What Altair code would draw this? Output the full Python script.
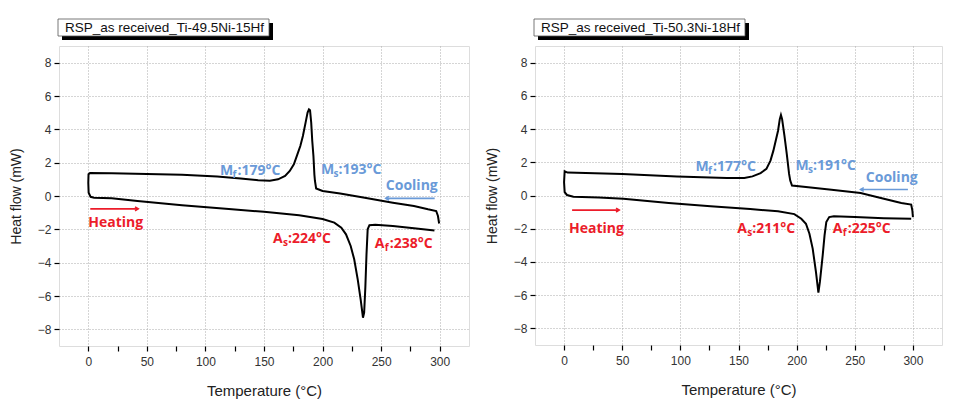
import altair as alt
import pandas as pd

# ---------------- data ----------------
# Path order: cooling curve from 300 °C back to 0 °C, then heating curve up to 300 °C
temp_1 = [299.5, 298.5, 297, 290, 278, 260, 236, 215, 200, 194.5, 193.5, 193, 192.2, 191.2, 190.3,
          189.3, 188.4, 187.2, 185.5, 183.2, 181, 178.5, 175.5, 172, 168, 162, 155, 145, 130, 110,
          80, 50, 20, 1.5, 0.2, 0, 0.3, 2, 5,
          20, 42, 80, 120, 150, 180, 200, 210, 216, 220, 224, 227, 230, 232.5, 234.5, 235.5, 236.5,
          237.5, 238.5, 240, 245, 260, 280, 295.5]
flow_1 = [-1.65, -1.2, -0.9, -0.8, -0.6, -0.4, -0.1, 0.15, 0.3, 0.45, 0.9, 1.3, 2.4, 3.3, 4.4,
          5.15, 5.2, 5.0, 4.4, 3.6, 3.0, 2.5, 1.9, 1.5, 1.2, 1.0, 0.92, 0.95, 1.05, 1.17,
          1.27, 1.32, 1.36, 1.38, 1.3, 0.8, 0.2, -0.05, -0.1,
          -0.13, -0.3, -0.55, -0.78, -0.95, -1.15, -1.38, -1.6, -1.9, -2.3, -3.0, -3.8, -5.0, -6.2, -7.3, -7.0, -5.5,
          -3.5, -2.0, -1.75, -1.72, -1.8, -1.95, -2.07]

temp_2 = [300, 299.5, 298.5, 290, 275, 255, 230, 210, 196, 194.5, 193.5, 191.5, 189.5, 187.5, 186.5,
          185.5, 184, 182, 180, 177.5, 174, 169, 162, 155, 140, 97, 50, 3, 0.5, 0, 0.5, 2.5, 8,
          30, 51, 90, 126, 160, 184, 198, 204, 208, 211, 213.8, 216.6, 218.7, 220, 222.4, 224,
          225.5, 228, 232, 250, 275, 298.5]
flow_2 = [-1.3, -0.9, -0.55, -0.45, -0.2, 0.15, 0.35, 0.5, 0.6, 0.9, 1.3, 2.5, 3.6, 4.6, 4.85,
          4.6, 3.9, 3.3, 2.7, 2.1, 1.6, 1.35, 1.15, 1.05, 1.05, 1.15, 1.3, 1.38, 1.46, 0.8, 0.2, 0.03, -0.08,
          -0.12, -0.2, -0.45, -0.64, -0.82, -0.95, -1.12, -1.4, -1.7, -2.3, -3.2, -4.6, -5.85, -5.2, -3.6, -2.4,
          -1.6, -1.3, -1.25, -1.3, -1.37, -1.4]

panel_titles = ["RSP_as received_Ti-49.5Ni-15Hf", "RSP_as received_Ti-50.3Ni-18Hf"]

# transformation temperature labels: main letter, subscript, rest, x, y
mart_main = ["M", "M"]
mart_sub = ["f", "s"]
mart_rest_1 = [":179°C", ":193°C"]
mart_rest_2 = [":177°C", ":191°C"]
mart_x_1 = [112.5, 198.6]
mart_y_1 = [1.5, 1.57]
mart_x_2 = [113, 199]
mart_y_2 = [1.74, 1.8]

aus_main = ["A", "A"]
aus_sub = ["s", "f"]
aus_rest_1 = [":224°C", ":238°C"]
aus_rest_2 = [":211°C", ":225°C"]
aus_x_1 = [157.7, 244.6]
aus_y_1 = [-2.6, -2.9]
aus_x_2 = [149, 231]
aus_y_2 = [-2.04, -2.04]

# direction labels and arrows
cool_label_1 = (254, 0.6)
cool_arrow_1 = (295.7, 254, -0.14)      # from, to (tip), y
heat_label_1 = (0, -1.63)
heat_arrow_1 = (1.7, 42.6, -0.77)
cool_label_2 = (259.5, 1.08)
cool_arrow_2 = (295.7, 255, 0.36)
heat_label_2 = (4.3, -2.04)
heat_arrow_2 = (6.9, 47.4, -0.88)

RED = "#ec1c2a"
BLUE = "#6a9ad8"
ANN_FONT = "Open Sans"
AX_FONT = "Liberation Sans"

x_ticks = list(range(0, 301, 25))
y_ticks = list(range(-8, 9, 2))

XS = alt.Scale(domain=[-25, 325], nice=False, zero=False)
YS = alt.Scale(domain=[-9, 9], nice=False, zero=False)
XAX = alt.Axis(
    values=x_ticks, title="Temperature (°C)",
    labelExpr="datum.value % 50 == 0 ? datum.label : ''",
    labelOverlap=False,
    grid=True, gridDash=[1, 2], gridColor="#aaaaaa",
    gridOpacity={"condition": {"test": "datum.value % 50 !== 0", "value": 0}, "value": 1},
    domain=False, tickColor="#000000", tickSize=5, tickWidth=1.2,
    labelFont=AX_FONT, labelFontSize=12, labelColor="#333333", labelPadding=5,
    titleFont=AX_FONT, titleFontSize=15, titleFontWeight="normal", titleColor="#222222",
    titlePadding=16,
)
YAX = alt.Axis(
    values=y_ticks, title="Heat flow (mW)", labelOverlap=False,
    grid=True, gridDash=[1, 2], gridColor="#aaaaaa",
    domain=False, tickColor="#000000", tickSize=5, tickWidth=1.2,
    labelFont=AX_FONT, labelFontSize=12, labelColor="#333333", labelPadding=3,
    titleFont=AX_FONT, titleFontSize=14, titleFontWeight="normal", titleColor="#222222",
    titlePadding=14,
)


def X(field):
    return alt.X(field, type="quantitative", scale=XS, axis=XAX)


def Y(field):
    return alt.Y(field, type="quantitative", scale=YS, axis=YAX)


def panel(temps, flows, title, m_rest, m_x, m_y, a_rest, a_x, a_y,
          cool_label, cool_arrow, heat_label, heat_arrow, width, height):
    curve = pd.DataFrame({"i": range(len(temps)), "T": temps, "HF": flows})

    line = alt.Chart(curve).mark_line(color="black", strokeWidth=2).encode(
        x=X("T"), y=Y("HF"), order="i:Q",
    )

    mart = pd.DataFrame({"main": mart_main, "sub": mart_sub, "rest": m_rest, "x": m_x, "y": m_y})
    aus = pd.DataFrame({"main": aus_main, "sub": aus_sub, "rest": a_rest, "x": a_x, "y": a_y})

    def label_layers(df, color, main_w):
        base = alt.Chart(df).encode(x=X("x"), y=Y("y"))
        common = dict(align="left", baseline="middle", font=ANN_FONT, fontWeight="bold", color=color)
        return [
            base.mark_text(fontSize=14, **common).encode(text="main:N"),
            base.mark_text(fontSize=10, dx=main_w, dy=4, **common).encode(text="sub:N"),
            base.mark_text(fontSize=14, dx=main_w + 5, **common).encode(text="rest:N"),
        ]

    dirs = pd.DataFrame({
        "txt": ["Cooling", "Heating"],
        "x": [cool_label[0], heat_label[0]],
        "y": [cool_label[1], heat_label[1]],
        "c": [BLUE, RED],
    })
    dir_text = alt.Chart(dirs).mark_text(
        align="left", baseline="middle", font=ANN_FONT, fontWeight="bold", fontSize=14
    ).encode(
        x=X("x"), y=Y("y"), text="txt:N",
        color=alt.Color("c:N", scale=None),
    )
    arrows = pd.DataFrame({
        "x1": [cool_arrow[0], heat_arrow[0]],
        "x2": [cool_arrow[1], heat_arrow[1]],
        "y": [cool_arrow[2], heat_arrow[2]],
        "c": [BLUE, RED],
        "shape": ["M1,-0.6L0,0L1,0.6", "M-1,-0.6L0,0L-1,0.6"],
    })
    arrow_line = alt.Chart(arrows).mark_rule(strokeWidth=1.6).encode(
        x=X("x1"), x2="x2:Q", y=Y("y"),
        color=alt.Color("c:N", scale=None),
    )
    arrow_head = alt.Chart(arrows).mark_point(filled=False, strokeWidth=1.6, size=40, opacity=1).encode(
        x=X("x2"), y=Y("y"),
        color=alt.Color("c:N", scale=None),
        shape=alt.Shape("shape:N", scale=None),
    )

    one = alt.Data(values=[{"t": title}])
    shadow = alt.Chart(one).mark_rect(color="black").encode(
        x=alt.value(3), x2=alt.value(214), y=alt.value(-23), y2=alt.value(-6))
    box = alt.Chart(one).mark_rect(color="white", stroke="#555555", strokeWidth=0.8).encode(
        x=alt.value(-1), x2=alt.value(210), y=alt.value(-27), y2=alt.value(-10))
    box_text = alt.Chart(one).mark_text(
        align="left", baseline="middle", font=AX_FONT, fontSize=13.5, color="#111111"
    ).encode(x=alt.value(6), y=alt.value(-18), text="t:N")

    layers = [line] + label_layers(mart, BLUE, 12.5) + label_layers(aus, RED, 10) + \
        [dir_text, arrow_line, arrow_head, shadow, box, box_text]
    return alt.layer(*layers).properties(width=width, height=height)


left = panel(temp_1, flow_1, panel_titles[0], mart_rest_1, mart_x_1, mart_y_1,
             aus_rest_1, aus_x_1, aus_y_1, cool_label_1, cool_arrow_1, heat_label_1, heat_arrow_1,
             410, 300)
right = panel(temp_2, flow_2, panel_titles[1], mart_rest_2, mart_x_2, mart_y_2,
              aus_rest_2, aus_x_2, aus_y_2, cool_label_2, cool_arrow_2, heat_label_2, heat_arrow_2,
              407, 299)

chart = alt.hconcat(left, right, spacing=14).properties(
    padding={"left": 0, "top": 10, "right": 0, "bottom": 0}
).configure_view(stroke="black", strokeWidth=1.5).configure_axis(
    labelOverlap=False
).configure(background="white")

chart.save("out.html", embed_options={"renderer": "svg", "actions": False})
